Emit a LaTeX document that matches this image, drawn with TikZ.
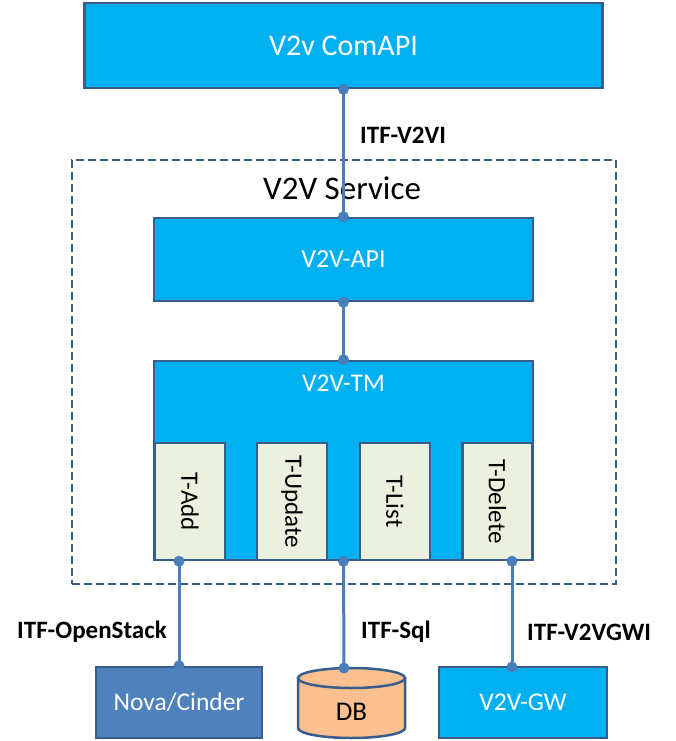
\documentclass[tikz,border=0pt]{standalone}
\usepackage{fontspec}
\usepackage{graphicx}
\setmainfont{Carlito}
\definecolor{boxcyan}{HTML}{00B0F0}
\definecolor{edgeblue}{HTML}{385D8A}
\definecolor{linkblue}{HTML}{4A7EBB}
\definecolor{novablue}{HTML}{4F81BD}
\definecolor{dbpeach}{HTML}{FAC090}
\definecolor{taskgreen}{HTML}{EBF1DE}
\tikzset{
  blk/.style={draw=edgeblue, line width=2.5pt, fill=boxcyan, text=white, inner sep=0pt, font=\fontsize{25.5}{30}\selectfont},
  task/.style={draw=edgeblue, line width=2.5pt, fill=taskgreen, minimum width=70, minimum height=117, inner sep=0pt, font=\fontsize{25}{29}\selectfont},
  link/.style={draw=linkblue, line width=3pt},
  itf/.style={anchor=west, inner sep=0pt, font=\bfseries\fontsize{25}{29}\selectfont},
}

\begin{document}
\begin{tikzpicture}[x=1pt,y=-1pt]
      \useasboundingbox (0,0) rectangle (676,741);
      % service frame
      \node[draw=edgeblue, line width=2pt, dash pattern=on 8pt off 4pt, minimum width=544, minimum height=424, inner sep=0pt] (service) at (344,372) {};
      \node[font=\fontsize{33}{38}\selectfont] (servicetitle) at (342,188) {V2V Service};
      \node[blk, minimum width=518, minimum height=85, font=\fontsize{30}{34}\selectfont] (comapi) at (343.5,45.5) {V2v ComAPI};
      \node[blk, minimum width=379, minimum height=83, font=\fontsize{26}{30}\selectfont] (api) at (343.5,259.5) {V2V-API};
      \node[blk, minimum width=379, minimum height=199] (tm) at (343.5,460.5) {};
      \node[text=white, font=\fontsize{25.5}{30}\selectfont] (tmtitle) at (343.5,383) {V2V-TM};
      \foreach \name/\x/\txt in {add/190/T-Add, upd/292/T-Update, lst/395/T-List, del/497.5/T-Delete}
        \node[task] (\name) at (\x,501.5) {\rotatebox{-90}{\txt}};
      % outside parts
      \node[blk, fill=novablue, minimum width=166, minimum height=71] (nova) at (179,702.5) {Nova/Cinder};
      \node[blk, minimum width=168, minimum height=71] (gw) at (523,702.5) {V2V-GW};
      \path[draw=edgeblue, line width=2.5pt, fill=dbpeach] (298,678) -- (298,728) arc[start angle=180, end angle=360, x radius=53.5pt, y radius=10pt] -- (405,678) -- cycle;
      \path[draw=edgeblue, line width=2.5pt, fill=dbpeach] (351.5,678) ellipse[x radius=53.5pt, y radius=10pt];
      \node[font=\fontsize{27}{31}\selectfont] (db) at (351.5,712) {DB};
      \coordinate (dbtop) at (344,668);
      \coordinate (gwtop) at (512,667);
      % interfaces
      \draw[link] (comapi.south) -- (api.north);
      \draw[link] (api.south) -- (tm.north);
      \draw[link] (tm.south -| nova.north) -- (nova.north);
      \draw[link] (tm.south) -- (dbtop);
      \draw[link] (tm.south -| gwtop) -- (gwtop);
      \foreach \p in {comapi.south, api.north, api.south, tm.north, tm.south, dbtop, nova.north, gwtop, tm.south -| nova.north, tm.south -| gwtop}
        \fill[linkblue] (\p) circle (5.5pt);
      \node[itf] (itfv2vi) at (360,135) {ITF-V2VI};
      \node[itf] (itfos) at (17,632) {ITF-OpenStack};
      \node[itf] (itfsql) at (361,632) {ITF-Sql};
      \node[itf] (itfgw) at (527,632) {ITF-V2VGWI};
    \end{tikzpicture}
\end{document}
